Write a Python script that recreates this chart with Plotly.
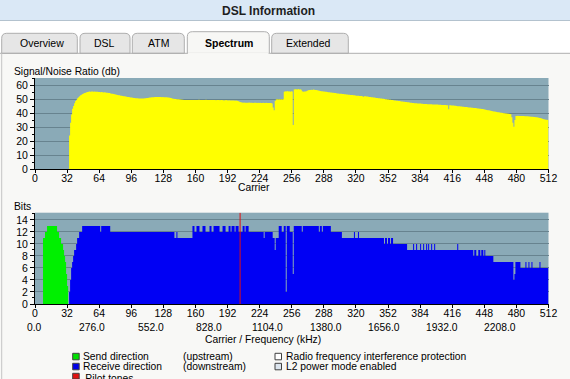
import plotly.graph_objects as go

# ---------------- data ----------------
carriers = list(range(512))
carrier_ticks = [0, 32, 64, 96, 128, 160, 192, 224, 256, 288, 320, 352, 384, 416, 448, 480, 512]
freq_labels = ["0.0", "276.0", "552.0", "828.0", "1104.0", "1380.0", "1656.0", "1932.0", "2208.0"]

snr_db = [
    0, 0, 0, 0, 0, 0, 0, 0, 0, 0, 0, 0, 0, 0, 0, 0,
    0, 0, 0, 0, 0, 0, 0, 0, 0, 0, 0, 0, 0, 0, 0, 0,
    0, 0, 24, 33, 39, 43, 45, 47, 48.5, 49.5, 50.5, 51.3, 52, 52.6, 53.1, 53.5,
    53.9, 54.2, 54.5, 54.8, 55, 55.1, 55.3, 55.2, 55.3, 55.4, 55.2, 55.3, 55.2, 55.1, 55.2, 55,
    55, 54.9, 55, 54.8, 54.7, 54.8, 54.6, 54.5, 54.4, 54.2, 54.3, 54, 53.8, 53.7, 53.5, 53.4,
    53.2, 53, 52.9, 52.7, 52.6, 52.4, 52.3, 52.2, 52, 51.9, 51.8, 51.6, 51.5, 51.4, 51.2, 51.1,
    51, 50.9, 50.8, 50.8, 50.6, 50.5, 50.5, 50.4, 50.3, 50.4, 50.3, 50.3, 50.4, 50.5, 50.6, 50.7,
    50.8, 50.9, 51, 51.1, 51.2, 51.3, 51.3, 51.4, 51.4, 51.5, 51.5, 51.4, 51.5, 51.4, 51.3, 51.4,
    51.3, 51.3, 51.2, 51.2, 51.1, 51, 50.9, 50.8, 50.5, 50.2, 50.1, 50, 50, 49.9, 49.8, 49.8,
    49.7, 49.6, 49.5, 49.4, 49.3, 49.3, 49.2, 49.3, 49.3, 49.2, 49.3, 49.2, 49.3, 49.3, 49.2, 49.3,
    49.3, 49.2, 49.3, 49.4, 49.3, 49.2, 49.3, 49.3, 49.2, 49.3, 49.4, 49.3, 49.2, 49.3, 49.3, 49.2,
    49.3, 49.2, 49.2, 49.3, 49.1, 49.2, 49.3, 49.2, 49.1, 49.2, 49.2, 49.1, 49, 49.1, 49.2, 49.1,
    49, 49.1, 49, 49, 48.9, 49, 48.9, 48.8, 48.9, 48.7, 48.5, 48.2, 47.9, 47.6, 47.5, 47.4,
    47.5, 47.4, 47.4, 47.3, 47.4, 47.5, 47.3, 47.4, 47.3, 47.2, 47.3, 47.4, 47.3, 47.2, 47.3, 47.2,
    47.3, 47.2, 47.2, 47.3, 47.1, 47.2, 47.3, 47.2, 47.1, 47.2, 47.2, 47.1, 46.8, 44, 42, 48.5,
    49.6, 49.8, 49.7, 49.8, 49.6, 49.8, 49.7, 49.8, 55.2, 55.6, 55.4, 55.7, 55.3, 55.5, 55.2, 55.6,
    55.4, 31.4, 56.8, 57, 56.9, 56.7, 57.1, 56.8, 57, 56.6, 55.5, 55.2, 55.3, 55.4, 55.6, 55.9,
    56.2, 56.4, 56.5, 56.6, 56.5, 56.7, 56.6, 56.5, 56.4, 56.2, 56.1, 55.9, 55.8, 55.6, 55.5, 55.4,
    55.3, 55.2, 55.1, 55, 54.9, 54.8, 54.7, 54.6, 54.5, 54.4, 54.3, 54.2, 54.1, 54, 53.9, 53.8,
    53.7, 53.7, 53.6, 53.5, 53.4, 53.4, 53.3, 53.2, 53.1, 53, 52.9, 52.9, 52.8, 52.7, 52.6, 52.5,
    52.4, 52.4, 52.3, 52.2, 52.1, 52.1, 52, 51.6, 52, 51.9, 51.8, 51.7, 51.6, 51.5, 51.4, 51.3,
    51.2, 51.1, 51, 50.9, 50.8, 50.7, 50.6, 50.5, 50.4, 50.3, 50.2, 50.1, 50, 49.9, 49.8, 49.7,
    49.6, 49.5, 49.4, 49.3, 49.2, 49.1, 49, 48.9, 48.8, 48.7, 48.6, 48.5, 48.4, 48.3, 48.2, 48.1,
    48, 47.9, 47.8, 47.7, 47.6, 47.5, 47.4, 47.3, 47.2, 47.1, 47, 46.9, 46.9, 46.8, 46.8, 46.7,
    46.7, 46.6, 46.6, 46.5, 46.5, 46.4, 46.4, 46.3, 46.3, 46.2, 46.2, 46.2, 46.1, 46.1, 46.1, 46,
    46, 46, 45.9, 45.9, 45.9, 45.8, 45.8, 45.8, 45.7, 45.7, 45.6, 45.6, 42.6, 45.5, 45.5, 45.4,
    45.4, 45.3, 45.2, 45.1, 45, 44.9, 44.9, 44.8, 44.7, 44.6, 44.5, 44.4, 44.3, 44.3, 44.2, 44.1,
    44, 43.9, 43.9, 43.8, 43.7, 43.6, 43.5, 43.5, 43.4, 43.3, 43.2, 43.1, 43, 42.9, 42.8, 42.6,
    42.5, 42.3, 42.2, 42, 41.9, 41.7, 41.6, 41.4, 41.3, 41.1, 41, 40.9, 40.7, 40.6, 40.5, 40.3,
    40.2, 40.1, 40, 39.9, 39.8, 39.7, 39.6, 39.5, 39.4, 39.3, 39.1, 37, 33, 30.2, 35, 37.9,
    37.9, 38, 37.9, 37.9, 37.8, 37.9, 37.8, 37.8, 37.7, 37.7, 37.6, 37.6, 37.5, 37.5, 37.4, 37.3,
    37.3, 37.2, 37.1, 37, 36.9, 36.8, 36.6, 36.4, 36.2, 36, 35.8, 35.6, 35.4, 35.2, 35.1, 35,
]

bits_upstream = [
    0, 0, 0, 0, 0, 0, 0, 0, 11, 11, 12, 12, 13, 13, 13, 13, 13, 13, 13, 13, 13, 13, 12, 12, 11, 11, 10, 10, 9, 8, 7, 5,
    3, 0, 0, 0, 0, 0, 0, 0, 0, 0, 0, 0, 0, 0, 0, 0, 0, 0, 0, 0, 0, 0, 0, 0, 0, 0, 0, 0, 0, 0, 0, 0,
]

bits_downstream = [
    0, 0, 0, 0, 0, 0, 0, 0, 0, 0, 0, 0, 0, 0, 0, 0, 0, 0, 0, 0, 0, 0, 0, 0, 0, 0, 0, 0, 0, 0, 0, 0,
    0, 0, 2, 4, 6, 7, 8, 9, 9, 10, 11, 11, 12, 12, 12, 13, 13, 13, 13, 13, 13, 13, 13, 13, 13, 13, 13, 13, 13, 13, 13, 13,
    13, 12, 13, 13, 13, 13, 13, 13, 13, 13, 13, 12, 12, 12, 12, 12, 12, 12, 12, 12, 12, 12, 12, 12, 12, 12, 12, 12, 12, 12, 12, 12,
    12, 12, 12, 12, 12, 12, 12, 12, 12, 12, 12, 12, 12, 12, 12, 12, 12, 12, 12, 12, 12, 12, 12, 12, 12, 12, 12, 12, 12, 12, 12, 12,
    12, 12, 12, 12, 12, 12, 12, 12, 12, 12, 12, 11, 11, 12, 11, 11, 11, 11, 11, 11, 11, 11, 11, 11, 11, 11, 11, 11, 11, 13, 13, 12,
    12, 13, 13, 13, 12, 12, 12, 13, 13, 13, 12, 12, 12, 12, 13, 13, 12, 12, 13, 13, 13, 13, 13, 13, 12, 12, 12, 13, 13, 13, 12, 12,
    12, 13, 13, 12, 13, 13, 13, 12, 13, 13, 13, 12, 12, 12, 12, 13, 13, 12, 13, 13, 13, 12, 12, 12, 12, 12, 12, 12, 12, 12, 12, 12,
    12, 12, 12, 12, 11, 12, 12, 12, 12, 12, 12, 12, 12, 11, 11, 9, 11, 11, 11, 13, 13, 13, 12, 12, 13, 13, 2, 13, 13, 13, 12, 12,
    12, 5, 13, 13, 13, 13, 13, 13, 13, 13, 12, 13, 13, 13, 13, 13, 13, 13, 13, 13, 13, 13, 13, 13, 13, 13, 13, 12, 13, 13, 12, 13,
    13, 13, 13, 13, 13, 13, 13, 12, 12, 12, 12, 12, 12, 12, 12, 12, 12, 12, 11, 11, 11, 11, 11, 11, 11, 11, 11, 11, 11, 11, 12, 11,
    11, 11, 12, 11, 11, 11, 11, 11, 11, 11, 11, 11, 11, 11, 11, 11, 11, 11, 11, 11, 11, 11, 11, 11, 11, 11, 11, 11, 10, 11, 11, 10,
    11, 11, 10, 11, 11, 10, 10, 10, 10, 10, 10, 10, 10, 10, 10, 10, 10, 10, 10, 9, 9, 9, 9, 9, 9, 10, 9, 9, 10, 9, 9, 9,
    10, 9, 9, 10, 9, 9, 10, 9, 10, 9, 9, 10, 9, 9, 10, 9, 9, 9, 9, 9, 9, 9, 9, 9, 9, 9, 9, 9, 9, 9, 9, 9,
    9, 9, 9, 9, 9, 10, 9, 9, 9, 9, 9, 9, 9, 9, 9, 9, 9, 9, 9, 9, 9, 8, 9, 9, 8, 8, 9, 9, 8, 9, 9, 8,
    9, 8, 8, 8, 8, 8, 8, 8, 8, 7, 7, 7, 7, 7, 7, 7, 7, 7, 7, 7, 7, 7, 7, 7, 7, 7, 7, 7, 7, 4, 5, 7,
    7, 7, 7, 7, 6, 6, 6, 6, 6, 7, 6, 6, 7, 6, 6, 7, 6, 6, 6, 6, 6, 6, 6, 7, 6, 6, 6, 6, 6, 6, 6, 6,
]

pilot_tone_carriers = [204]

# ---------------- figure helpers ----------------
W, H = 570, 379
FONT = "Liberation Sans"


def PX(x):
    return x / W


def PY(y):
    return 1 - y / H


ds = (bits_downstream + [0] * 512)[:512]
us = (bits_upstream + [0] * 512)[:512]
xs = carriers + [512]

fig = go.Figure()

fig.add_trace(go.Scatter(
    x=xs, y=snr_db + [snr_db[-1]], mode="lines", line=dict(width=0, shape="hv"),
    fill="tozeroy", fillcolor="#FFFF00", hoverinfo="skip", showlegend=False,
    xaxis="x", yaxis="y"))

fig.add_trace(go.Scatter(
    x=xs, y=ds + [ds[-1]], mode="lines", line=dict(width=0, shape="hv"),
    fill="tozeroy", fillcolor="#0000F4", hoverinfo="skip", showlegend=False,
    xaxis="x2", yaxis="y2"))

fig.add_trace(go.Scatter(
    x=xs, y=us + [us[-1]], mode="lines", line=dict(width=0, shape="hv"),
    fill="tozeroy", fillcolor="#00F000", hoverinfo="skip", showlegend=False,
    xaxis="x2", yaxis="y2"))

Y2_MAX = 15.2
for c in pilot_tone_carriers:
    fig.add_trace(go.Scatter(
        x=[c, c + 1], y=[Y2_MAX, Y2_MAX], mode="lines", line=dict(width=0, shape="hv"),
        fill="tozeroy", fillcolor="#E01010", hoverinfo="skip", showlegend=False,
        xaxis="x2", yaxis="y2"))

tickfont = dict(family=FONT, size=10.5, color="#000000")
X0_PX, X1_PX = 35, 548.5
Y2_TOP, Y2_BOT = 212.7, 304
xdom = [PX(X0_PX), PX(X1_PX)]

common_x = dict(
    range=[0, 512], domain=xdom, showline=True, linecolor="#000000", linewidth=1,
    ticks="outside", ticklen=3, tickcolor="#000000", tickwidth=1, ticklabelstandoff=-4,
    tickvals=carrier_ticks, ticktext=[str(v) for v in carrier_ticks],
    showgrid=False, zeroline=False, tickfont=tickfont, fixedrange=True, automargin=False,
)
common_y = dict(
    showline=True, linecolor="#000000", linewidth=1, ticks="outside", ticklen=4,
    tickcolor="#000000", showgrid=True, gridcolor="#67838F", gridwidth=1,
    zeroline=False, tickfont=tickfont, fixedrange=True, automargin=False,
)

fig.update_layout(
    width=W, height=H, margin=dict(l=0, r=0, t=0, b=0, pad=0, autoexpand=False),
    paper_bgcolor="#F8F8F6", plot_bgcolor="#8AAAB7",
    showlegend=False,
    xaxis=dict(common_x, anchor="y"),
    yaxis=dict(common_y, anchor="x", domain=[PY(169), PY(78)], range=[0, 65],
               tickvals=[0, 10, 20, 30, 40, 50, 60],
               minor=dict(ticks="outside", ticklen=2, tickcolor="#000000", dtick=5, showgrid=False)),
    xaxis2=dict(common_x, anchor="y2"),
    yaxis2=dict(common_y, anchor="x2", domain=[PY(Y2_BOT), PY(Y2_TOP)], range=[0, Y2_MAX],
                tickvals=[0, 2, 4, 6, 8, 10, 12, 14],
                minor=dict(ticks="outside", ticklen=2, tickcolor="#000000", dtick=1, showgrid=False)),
)

shapes = []
shapes.append(dict(type="rect", xref="paper", yref="paper", x0=0, x1=1, y0=PY(20.5), y1=1,
                   fillcolor="#DAE8F6", line=dict(width=0), layer="below"))
shapes.append(dict(type="rect", xref="paper", yref="paper", x0=0, x1=1, y0=PY(53.3), y1=PY(20.5),
                   fillcolor="#FFFFFF", line=dict(width=0), layer="below"))
shapes.append(dict(type="line", xref="paper", yref="paper", x0=0, x1=1, y0=PY(20.5), y1=PY(20.5),
                   line=dict(color="#B3C2CE", width=1)))


def tab_path(x0, x1, ytop, ybot, r=5):
    return (f"M {PX(x0)},{PY(ybot)} L {PX(x0)},{PY(ytop + r)} "
            f"Q {PX(x0)},{PY(ytop)} {PX(x0 + r)},{PY(ytop)} "
            f"L {PX(x1 - r)},{PY(ytop)} Q {PX(x1)},{PY(ytop)} {PX(x1)},{PY(ytop + r)} "
            f"L {PX(x1)},{PY(ybot)} Z")


tabs = [("Overview", 1.7, 77.3, False), ("DSL", 80, 130, False), ("ATM", 132.3, 184.3, False),
        ("Spectrum", 187.3, 269.3, True), ("Extended", 271.7, 348.3, False)]
for name, a, b, active in tabs:
    shapes.append(dict(type="path", xref="paper", yref="paper",
                       path=tab_path(a, b, 31.7 if active else 33.3, 53.3),
                       fillcolor="#F7F7F5" if active else "#E6E6E6",
                       line=dict(color="#AEAEAE", width=1)))
shapes.append(dict(type="line", xref="paper", yref="paper", x0=0, x1=PX(187.3), y0=PY(53.3), y1=PY(53.3),
                   line=dict(color="#AEAEAE", width=1)))
shapes.append(dict(type="line", xref="paper", yref="paper", x0=PX(269.3), x1=1, y0=PY(53.3), y1=PY(53.3),
                   line=dict(color="#AEAEAE", width=1)))
shapes.append(dict(type="rect", xref="paper", yref="paper", x0=PX(188), x1=PX(268.6), y0=PY(54), y1=PY(52.6),
                   fillcolor="#F7F7F5", line=dict(width=0)))
shapes.append(dict(type="line", xref="paper", yref="paper", x0=PX(1.7), x1=PX(1.7), y0=0, y1=PY(53.3),
                   line=dict(color="#C4C4C4", width=1)))

legend_boxes = [(72.7, 353.3, "#00E000"), (72.7, 363.3, "#0000E8"), (72.7, 373.3, "#E01010"),
                (275, 353.3, "#FFFFFF"), (275, 363.3, "#DCE5EE")]
for x0, y0, col in legend_boxes:
    shapes.append(dict(type="rect", xref="paper", yref="paper", x0=PX(x0), x1=PX(x0 + 6.5),
                       y0=max(PY(y0 + 6.5), 0.0), y1=PY(y0), fillcolor=col, line=dict(color="#404040", width=1)))

# "Pilot tones" row is cut by the bottom edge, as in the reference
shapes.append(dict(type="rect", xref="paper", yref="paper", x0=PX(82.3), x1=PX(140), y0=PY(376.9), y1=PY(376.9),
                   line=dict(width=0), fillcolor="rgba(0,0,0,0)",
                   label=dict(text="Pilot tones", textposition="middle left", padding=0,
                              font=dict(family=FONT, size=10.3, color="#000000"))))

fig.update_layout(shapes=shapes)

ann = []


def text(t, x, y, size=10.3, xanchor="center", bold=False, color="#000000"):
    ann.append(dict(text=f"<b>{t}</b>" if bold else t, x=PX(x), y=PY(y), xref="paper", yref="paper",
                    xanchor=xanchor, yanchor="middle", showarrow=False, borderpad=0,
                    font=dict(family=FONT, size=size, color=color)))


text("DSL Information", 268.3, 10.5, size=12, bold=True, color="#1E1E1E")
text("Overview", 42.3, 43, size=10.5)
text("DSL", 104, 43, size=10.5)
text("ATM", 158.7, 43, size=10.5)
text("Spectrum", 228.5, 43, size=10.5, bold=True)
text("Extended", 308.8, 43, size=10.5)

text("Signal/Noise Ratio (db)", 12.7, 71.7, xanchor="left")
text("Carrier", 254, 187)
text("Bits", 13, 206, xanchor="left")
for i, lab in enumerate(freq_labels):
    text(lab, 34 + 58.3 * i, 327)
text("Carrier / Frequency (kHz)", 263, 339)

text("Send direction", 82.3, 356.7, xanchor="left")
text("(upstream)", 182, 356.7, xanchor="left")
text("Radio frequency interference protection", 284.7, 356.7, xanchor="left")
text("Receive direction", 82.3, 366.7, xanchor="left")
text("(downstream)", 182, 366.7, xanchor="left")
text("L2 power mode enabled", 284.7, 366.7, xanchor="left")

fig.update_layout(annotations=ann)

fig.write_html("out.html", config={"displayModeBar": False, "staticPlot": True},
               post_script="document.body.style.margin='0';document.body.style.overflow='hidden';")
